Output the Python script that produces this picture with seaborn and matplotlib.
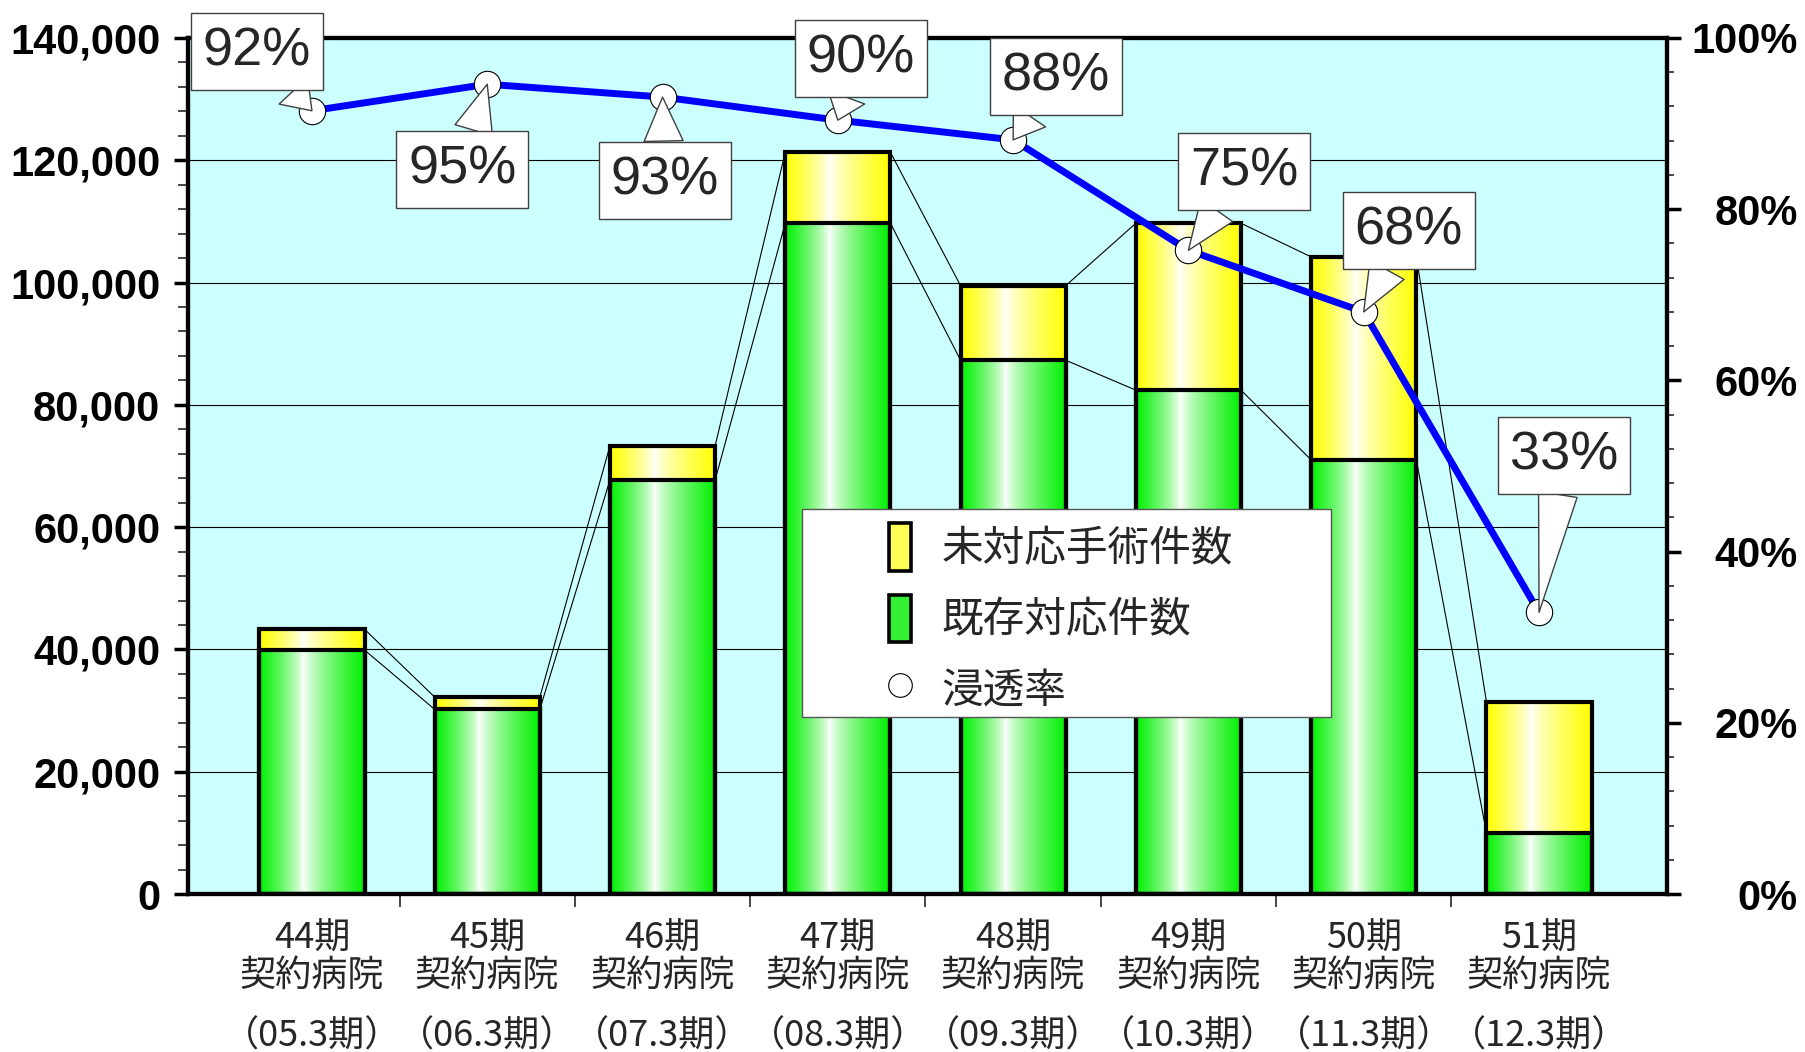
import numpy as np
import pandas as pd
import matplotlib
matplotlib.use('Agg')
import matplotlib.pyplot as plt
import matplotlib.transforms as mtrans
from matplotlib.colors import to_rgb
from matplotlib.lines import Line2D
from matplotlib.patches import Patch, Rectangle
from matplotlib.path import Path
from matplotlib.ticker import MultipleLocator, FuncFormatter
import seaborn as sns

periods = ['44期', '45期', '46期', '47期', '48期', '49期', '50期', '51期']
fiscal = ['（05.3期）', '（06.3期）', '（07.3期）', '（08.3期）',
          '（09.3期）', '（10.3期）', '（11.3期）', '（12.3期）']
existing = [39900, 30200, 67700, 109700, 87300, 82400, 71000, 10000]   # 既存対応件数
pending = [3400, 2000, 5600, 11600, 12200, 27300, 33200, 21400]        # 未対応手術件数
rate = [0.915, 0.946, 0.931, 0.904, 0.881, 0.752, 0.680, 0.329]      # 浸透率
rate_labels = ['92%', '95%', '93%', '90%', '88%', '75%', '68%', '33%']

# where each callout box sits relative to its point (pixels, dx / dy up)
label_offsets = [(-55, 59), (-25, -85), (2, -83), (23, 62),
                 (43, 63), (56, 79), (45, 81), (25, 157)]

sns.set_theme(style='white')
plt.rcParams['font.family'] = ['Liberation Sans', 'Noto Sans CJK JP', 'DejaVu Sans']
JP = ['Noto Sans CJK JP', 'DejaVu Sans']

YELLOW = '#FFFF00'
GREEN = '#00F000'
BLUE = '#0000FF'
BG = '#CCFFFF'

df = pd.DataFrame({'period': periods, 'existing': existing, 'pending': pending})
df['total'] = df['existing'] + df['pending']
n = len(df)


def shade(base, npx=256, center=0.42):
    # horizontal white highlight like the excel "cylinder" fill
    u = np.linspace(0, 1, npx)
    s = np.where(u < center, (center - u) / center, (u - center) / (1 - center))
    s = s ** 0.75
    rgb = np.array(to_rgb(base))
    img = (1 - s)[:, None] * np.ones(3) + s[:, None] * rgb
    return img[None, :, :]


def label_box(x0, y0, width, height, mutation_size):
    px, py = 0.22 * mutation_size, 0.25 * mutation_size
    x0, y0 = x0 - px, y0 - py
    x1, y1 = x0 + width + 2 * px, y0 + height + 2 * py
    return Path([(x0, y0), (x1, y0), (x1, y1), (x0, y1), (x0, y0)], closed=True)


fig = plt.figure(figsize=(18.05, 10.52), dpi=100)
ax = fig.add_axes([0.10416, 0.15019, 0.81939, 0.81369])
ax.set_facecolor(BG)

sns.barplot(data=df, x='period', y='total', color=YELLOW, saturation=1, width=0.6,
            edgecolor='black', linewidth=3, errorbar=None, ax=ax)
sns.barplot(data=df, x='period', y='existing', color=GREEN, saturation=1, width=0.6,
            edgecolor='black', linewidth=3, errorbar=None, ax=ax)

bars = list(ax.patches)
for k, patch in enumerate(bars):
    base = YELLOW if k < n else GREEN
    x0, y0 = patch.get_x(), patch.get_y()
    w, h = patch.get_width(), patch.get_height()
    im = ax.imshow(shade(base), extent=[x0, x0 + w, y0, y0 + h], aspect='auto',
                   interpolation='bilinear', zorder=2 + 0.1 * (k // n))
    im.set_clip_path(patch)
    patch.set_facecolor('none')
    patch.set_zorder(3)

# series lines between neighbouring bar tops
for group in (bars[:n], bars[n:]):
    for a, b in zip(group[:-1], group[1:]):
        ax.plot([a.get_x() + a.get_width(), b.get_x()], [a.get_height(), b.get_height()],
                color='black', lw=0.8, zorder=1.5)

ax2 = ax.twinx()
sns.lineplot(x=np.arange(n), y=rate, ax=ax2, color=BLUE, lw=5, marker='o',
             markersize=19, markerfacecolor='white', markeredgecolor='black',
             markeredgewidth=0.8, zorder=3)

for i, (r, lab, off) in enumerate(zip(rate, rate_labels, label_offsets)):
    ax2.annotate(lab, xy=(i, r), xytext=off, textcoords='offset pixels',
                 ha='center', va='center', fontsize=39, family=['Liberation Sans'],
                 bbox=dict(boxstyle=label_box, fc='white', ec='#404040', lw=1),
                 arrowprops=dict(arrowstyle='wedge,tail_width=0.72,shrink_factor=0.5',
                                 fc='white', ec='#404040', lw=1, shrinkA=0, shrinkB=0),
                 zorder=6)

ax.set_xlim(-0.707, 7.73)
ax.set_ylim(0, 140000)
ax2.set_ylim(0, 1)

ax.yaxis.set_major_locator(MultipleLocator(20000))
ax.yaxis.set_minor_locator(MultipleLocator(4000))
ax.yaxis.set_major_formatter(FuncFormatter(lambda v, p: f'{v:,.0f}'))
ax2.yaxis.set_major_locator(MultipleLocator(0.2))
ax2.yaxis.set_minor_locator(MultipleLocator(0.04))
ax2.yaxis.set_major_formatter(FuncFormatter(lambda v, p: f'{v:.0%}'))

ax.grid(axis='y', which='major', color='black', lw=0.8)
ax.set_axisbelow(True)

ax.tick_params(axis='y', which='major', left=True, direction='out', length=10, width=2.5,
               labelsize=30, pad=10, colors='black')
ax.tick_params(axis='y', which='minor', left=True, direction='out', length=7, width=1.2)
ax2.tick_params(axis='y', which='major', right=True, direction='out', length=10, width=2.5,
                labelsize=30, pad=84, colors='black')
ax2.tick_params(axis='y', which='minor', right=True, direction='out', length=5, width=1.2)

ax.set_xticks(range(n), labels=[f'{p}\n契約病院' for p in periods])
ax.set_xticks(np.arange(0.5, n - 1, 1), minor=True)
ax.tick_params(axis='x', which='major', bottom=True, length=0, pad=19, labelsize=26)
ax.tick_params(axis='x', which='minor', bottom=True, direction='out', length=9, width=1.2)
for lbl in ax.get_xticklabels():
    lbl.set_family(JP)
    lbl.set_linespacing(1.05)

trans = mtrans.blended_transform_factory(ax.transData, ax.transAxes)
for i, f in enumerate(fiscal):
    ax.text(i, -0.166, f, transform=trans, ha='center', va='center', fontsize=26, family=JP)

plt.setp(ax.get_yticklabels(), fontweight='bold')
plt.setp(ax2.get_yticklabels(), fontweight='bold', ha='right')

for a in (ax, ax2):
    for sp in a.spines.values():
        sp.set_color('black')
        sp.set_linewidth(3)
ax.set_xlabel('')
ax.set_ylabel('')
ax2.set_ylabel('')

# legend with its white panel
handles = [Patch(facecolor='#FFFF55', edgecolor='black', lw=2.6),
           Patch(facecolor='#33EE33', edgecolor='black', lw=2.6),
           Line2D([], [], ls='none', marker='o', ms=17, mfc='white', mec='black', mew=0.8)]
labels = ['未対応手術件数', '既存対応件数', '浸透率']
fig.add_artist(Rectangle((802 / 1805, 1 - 717 / 1052), 529 / 1805, 208 / 1052,
                         transform=fig.transFigure, fc='white', ec='#555555', lw=1, zorder=1))
fig.legend(handles, labels, loc='upper left', bbox_to_anchor=(889 / 1805, 1 - 523 / 1052),
           frameon=False, borderpad=0, borderaxespad=0, prop={'family': JP, 'size': 30},
           handlelength=0.53, handleheight=1.39, labelspacing=0.57, handletextpad=0.72)

fig.savefig('out.png', dpi=100, facecolor='white')
